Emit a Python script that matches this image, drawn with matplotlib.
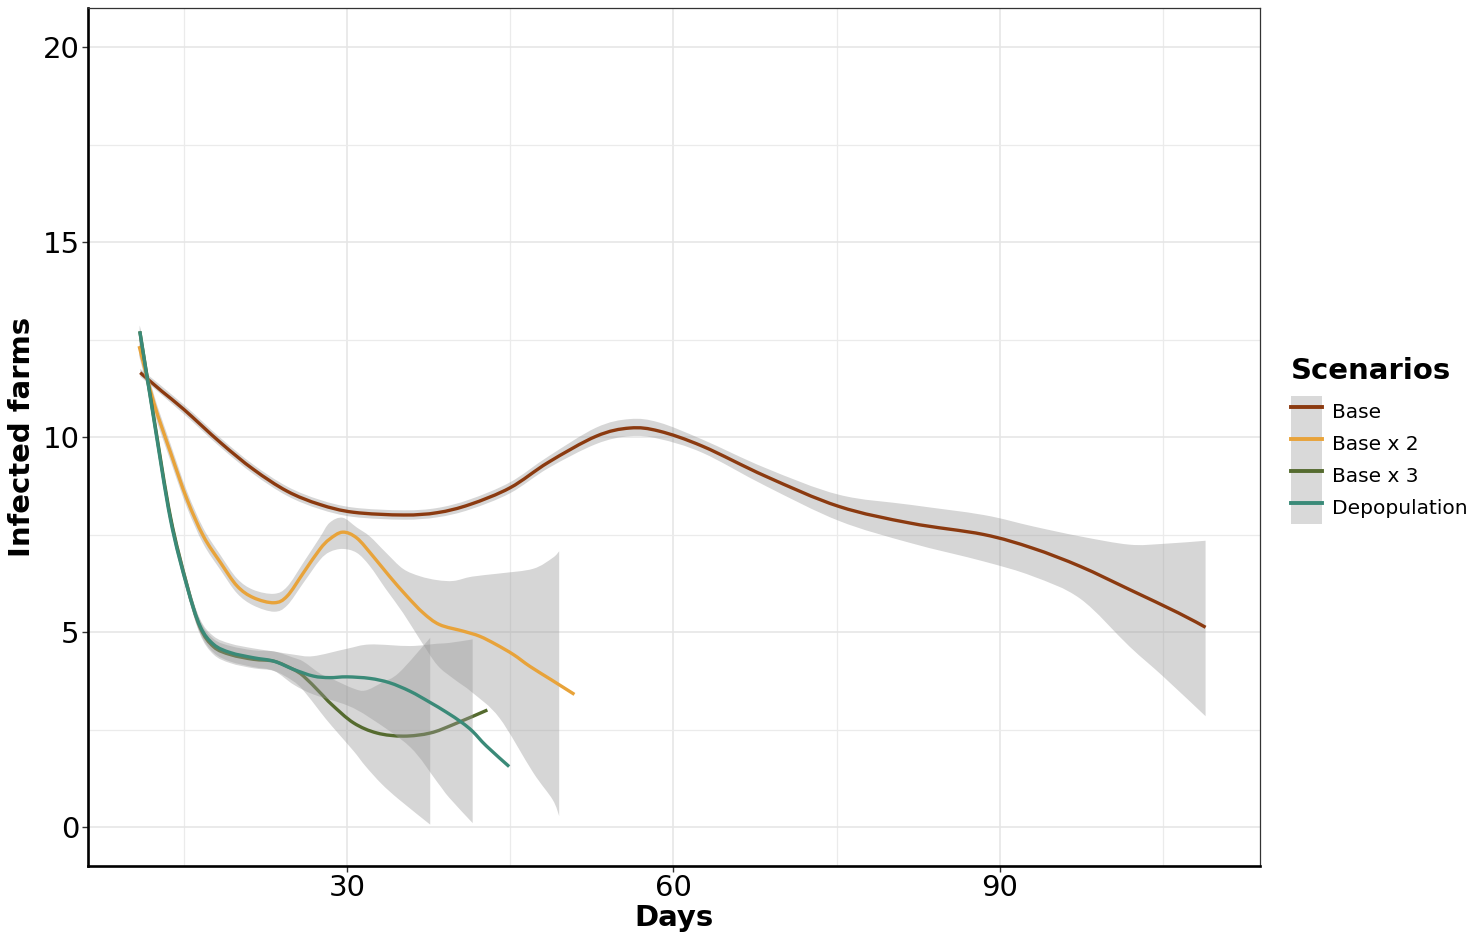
import matplotlib
matplotlib.use("Agg")
import matplotlib.pyplot as plt
from matplotlib.lines import Line2D
from matplotlib.patches import Patch, PathPatch
from matplotlib.path import Path
from matplotlib.ticker import MultipleLocator

# smoothed curves (Days, Infected farms)
base_x = [11.0, 13.0, 15.0, 18.4, 21.4, 24.5, 27.5, 30.6, 35.2, 38.3, 41.3, 45.0, 48.5,
          52.9, 56.0, 58.7, 62.7, 68.5, 75.2, 81.8, 88.5, 93.0, 97.4, 101.9, 106.4, 108.9]
base_y = [11.65, 11.17, 10.71, 9.85, 9.17, 8.61, 8.27, 8.07, 8.00, 8.06, 8.27, 8.70, 9.35,
          10.02, 10.23, 10.15, 9.76, 8.99, 8.22, 7.79, 7.50, 7.15, 6.68, 6.09, 5.49, 5.12]
base_rx = [11.0, 15.0, 18.4, 21.4, 24.5, 27.5, 30.6, 35.2, 38.3, 41.3, 45.0, 48.5, 52.9,
           56.0, 58.7, 62.7, 68.5, 75.2, 81.8, 88.5, 93.0, 97.4, 101.9, 105.0, 108.9]
base_lo = [11.55, 10.59, 9.73, 9.05, 8.49, 8.15, 7.95, 7.88, 7.94, 8.14, 8.56, 9.20, 9.82,
           10.02, 9.95, 9.59, 8.74, 7.85, 7.28, 6.81, 6.43, 5.85, 4.63, 3.86, 2.84]
base_hi = [11.75, 10.83, 9.97, 9.29, 8.73, 8.39, 8.19, 8.12, 8.18, 8.40, 8.84, 9.50, 10.24,
           10.46, 10.37, 9.93, 9.20, 8.52, 8.26, 8.00, 7.71, 7.45, 7.24, 7.26, 7.34]

x2_x = [10.9, 12.25, 13.8, 15.3, 16.8, 18.4, 19.9, 21.4, 23.3, 24.5, 26.0, 27.5, 28.4, 29.6,
        30.9, 32.4, 33.9, 35.5, 37.0, 38.5, 40.7, 42.2, 43.7, 45.3, 46.8, 48.8, 50.9]
x2_y = [12.33, 10.88, 9.59, 8.40, 7.46, 6.77, 6.18, 5.88, 5.75, 5.92, 6.52, 7.12, 7.38, 7.56,
        7.41, 6.94, 6.43, 5.92, 5.49, 5.19, 5.02, 4.89, 4.68, 4.42, 4.12, 3.77, 3.40]
x2_rx = [10.9, 12.25, 13.8, 15.3, 16.8, 18.4, 19.9, 21.4, 23.3, 24.5, 26.0, 27.5, 28.4, 29.6,
         30.9, 32.1, 33.6, 35.15, 36.7, 38.3, 39.8, 41.5, 44.0, 47.1, 48.9, 49.5]
x2_lo = [12.08, 10.65, 9.37, 8.19, 7.26, 6.58, 5.99, 5.68, 5.52, 5.68, 6.26, 6.84, 7.05, 7.13,
         7.03, 6.69, 6.09, 5.49, 4.81, 4.15, 3.80, 3.45, 2.80, 1.40, 0.70, 0.28]
x2_hi = [12.58, 11.10, 9.81, 8.61, 7.66, 6.96, 6.37, 6.08, 5.98, 6.16, 6.78, 7.42, 7.80, 7.93,
         7.68, 7.45, 7.03, 6.62, 6.43, 6.33, 6.31, 6.42, 6.50, 6.62, 6.90, 7.07]

x3_x = [10.96, 12.25, 13.78, 15.3, 16.5, 17.75, 19.3, 21.4, 23.3, 25.0, 26.0, 27.55, 28.6,
        30.6, 32.75, 35.2, 37.65, 39.8, 42.9]
x3_y = [12.71, 10.50, 7.95, 6.20, 5.12, 4.62, 4.42, 4.30, 4.25, 4.05, 3.87, 3.44, 3.14,
        2.67, 2.41, 2.33, 2.41, 2.63, 3.00]
x3_rx = [10.96, 12.25, 13.78, 15.3, 16.5, 17.75, 19.3, 21.4, 23.3, 25.0, 26.0, 27.55, 28.6,
         30.6, 31.7, 33.2, 34.8, 37.65]
x3_lo = [12.56, 10.35, 7.78, 6.03, 4.94, 4.42, 4.20, 4.07, 4.00, 3.75, 3.50, 2.95, 2.59,
         1.95, 1.56, 1.10, 0.70, 0.06]
x3_hi = [12.86, 10.65, 8.12, 6.37, 5.30, 4.82, 4.64, 4.53, 4.50, 4.35, 4.24, 3.93, 3.80,
         3.55, 3.50, 3.70, 3.96, 4.85]

dep_x = [10.96, 12.25, 13.78, 15.3, 16.5, 17.75, 19.3, 21.4, 23.3, 25.1, 26.9, 28.4, 30.0,
         32.1, 33.9, 35.8, 37.6, 39.1, 40.55, 41.55, 42.8, 44.9]
dep_y = [12.71, 10.45, 7.88, 6.17, 5.15, 4.68, 4.47, 4.34, 4.25, 4.04, 3.87, 3.83, 3.85,
         3.81, 3.70, 3.48, 3.20, 2.95, 2.68, 2.45, 2.08, 1.55]
dep_rx = [10.96, 12.25, 13.78, 15.3, 16.5, 17.75, 19.3, 21.4, 23.3, 25.1, 26.9, 30.0, 32.1,
          35.8, 38.3, 39.4, 41.55]
dep_lo = [12.56, 10.30, 7.72, 6.00, 4.97, 4.47, 4.24, 4.10, 4.00, 3.65, 3.40, 3.12, 2.80,
          2.05, 1.15, 0.75, 0.10]
dep_hi = [12.86, 10.60, 8.04, 6.34, 5.33, 4.89, 4.70, 4.58, 4.50, 4.42, 4.38, 4.57, 4.68,
          4.64, 4.70, 4.72, 4.81]

scenarios = ["Base", "Base x 2", "Base x 3", "Depopulation"]
colors = ["#8B3A10", "#E8A33A", "#556B2F", "#3A8A78"]

series = [
    (base_x, base_y, base_rx, base_lo, base_hi),
    (x2_x, x2_y, x2_rx, x2_lo, x2_hi),
    (x3_x, x3_y, x3_rx, x3_lo, x3_hi),
    (dep_x, dep_y, dep_rx, dep_lo, dep_hi),
]


def bezier_through(xs, ys):
    # catmull-rom style curve through the read points, as bezier segments
    pts = list(zip(xs, ys))
    verts, codes = [pts[0]], [Path.MOVETO]
    n = len(pts)
    for i in range(n - 1):
        p0 = pts[max(i - 1, 0)]
        p1, p2 = pts[i], pts[i + 1]
        p3 = pts[min(i + 2, n - 1)]
        c1 = (p1[0] + (p2[0] - p0[0]) / 6, p1[1] + (p2[1] - p0[1]) / 6)
        c2 = (p2[0] - (p3[0] - p1[0]) / 6, p2[1] - (p3[1] - p1[1]) / 6)
        verts += [c1, c2, p2]
        codes += [Path.CURVE4] * 3
    return verts, codes


fig = plt.figure(figsize=(14.77, 9.44), dpi=100)
ax = fig.add_axes([88 / 1477, 78 / 944, 1172 / 1477, 858 / 944])

# ribbon then line for each scenario, like geom_smooth
z = 2
for (sx, sy, rx, lo, hi), col in zip(series, colors):
    uv, uc = bezier_through(rx, hi)
    lv, lc = bezier_through(rx[::-1], lo[::-1])
    verts = uv + lv + [uv[0]]
    codes = uc + [Path.LINETO] + lc[1:] + [Path.CLOSEPOLY]
    ax.add_patch(PathPatch(Path(verts, codes), facecolor="#999999", alpha=0.4,
                           edgecolor="none", zorder=z))
    lv2, lc2 = bezier_through(sx, sy)
    ax.add_patch(PathPatch(Path(lv2, lc2), facecolor="none", edgecolor=col, lw=2.4,
                           capstyle="butt", zorder=z + 1))
    z += 2

ax.set_xlim(6.2, 113.9)
ax.set_ylim(-1.0, 21.0)
ax.xaxis.set_major_locator(MultipleLocator(30))
ax.xaxis.set_minor_locator(MultipleLocator(15))
ax.yaxis.set_major_locator(MultipleLocator(5))
ax.yaxis.set_minor_locator(MultipleLocator(2.5))

ax.grid(which="major", color="#E6E6E6", lw=1.2, zorder=0)
ax.grid(which="minor", color="#EBEBEB", lw=0.9, zorder=0)
ax.set_axisbelow(True)

ax.tick_params(which="major", length=4, width=1, color="#333333", labelsize=21, pad=2,
               labelcolor="black")
ax.tick_params(which="minor", length=0)

for s in ["left", "bottom"]:
    ax.spines[s].set_linewidth(1.9)
    ax.spines[s].set_color("black")
for s in ["top", "right"]:
    ax.spines[s].set_linewidth(0.9)
    ax.spines[s].set_color("#333333")

ax.set_xlabel("Days", fontsize=21, fontweight="bold", labelpad=1)
ax.set_ylabel("Infected farms", fontsize=21, fontweight="bold", labelpad=5)

handles = [(Patch(facecolor="#D9D9D9", edgecolor="none"), Line2D([], [], color=c, lw=2.8))
           for c in colors]
leg = fig.legend(handles, scenarios, loc="upper left", bbox_to_anchor=(1291 / 1477, 1 - 357 / 944),
                 frameon=False, fontsize=14.5, title="Scenarios", alignment="left",
                 title_fontproperties={"weight": "bold", "size": 21},
                 handlelength=1.55, handleheight=2.06, labelspacing=0.0, handletextpad=0.5,
                 borderpad=0.0, borderaxespad=0.0)
leg._legend_box.sep = 8  # small gap between the title and the keys

fig.savefig("out.png", dpi=100, facecolor="white")
